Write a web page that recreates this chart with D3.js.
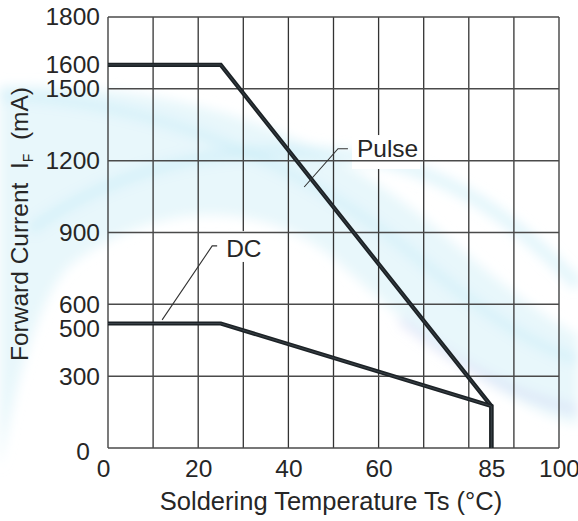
<!DOCTYPE html>
<html>
<head>
<meta charset="utf-8">
<script src="https://cdn.jsdelivr.net/npm/d3@7"></script>
<style>
  html, body { margin: 0; padding: 0; background: #ffffff; }
  svg { display: block; }
  text { font-family: "Liberation Sans", Arial, sans-serif; fill: #262626; }
</style>
</head>
<body>
<svg id="chart" width="578" height="521"></svg>
<script>
// ---- data ----
const temps = [0, 25, 85, 85];
const pulseCurrent = [1600, 1600, 175, 0];
const dcCurrent = [520, 520, 175, 0];
const xTickValues = [0, 20, 40, 60, 85, 100];
const yTickValues = [0, 300, 500, 600, 900, 1200, 1500, 1600, 1800];
const xGridValues = [0, 10, 20, 30, 40, 50, 60, 70, 80, 90, 100];
const yGridValues = [0, 300, 600, 900, 1200, 1500, 1800];
const seriesNames = ["Pulse", "DC"];
const xTitle = "Soldering Temperature Ts (°C)";

// ---- layout ----
const svg = d3.select("#chart");
const x = d3.scaleLinear().domain([0, 100]).range([108, 559]);
const y = d3.scaleLinear().domain([0, 1800]).range([448, 17]);

// ---- faint background watermark ----
const defs = svg.append("defs");
defs.append("filter").attr("id", "blur").append("feGaussianBlur").attr("stdDeviation", 6);
const g0 = svg.append("g").attr("filter", "url(#blur)");
g0.append("path")
  .attr("d", "M0,86 C160,82 300,120 420,215 C480,265 530,310 578,335 L578,425 C500,405 420,335 330,255 C250,195 150,205 70,265 C35,300 12,400 0,470 Z")
  .attr("fill", "#e2f5fa").attr("opacity", 0.8);
g0.append("path")
  .attr("d", "M30,230 C120,165 240,135 380,160 C460,178 520,225 578,285")
  .attr("fill", "none").attr("stroke", "#cdeef8").attr("stroke-width", 12).attr("opacity", 0.6);
g0.append("path")
  .attr("d", "M400,320 C460,365 510,395 578,410")
  .attr("fill", "none").attr("stroke", "#cfd2f3").attr("stroke-width", 6).attr("opacity", 0.6);
g0.append("path")
  .attr("d", "M0,95 C150,100 300,160 420,260 C480,310 530,345 578,360")
  .attr("fill", "none").attr("stroke", "#c8ecf7").attr("stroke-width", 10).attr("opacity", 0.55);

// ---- grid: vertical lines ----
svg.append("g").selectAll("line").data(xGridValues).join("line")
  .attr("x1", d => x(d)).attr("x2", d => x(d))
  .attr("y1", y(0)).attr("y2", y(1800))
  .attr("stroke", "#333").attr("stroke-width", 1.3);

// label backgrounds (hide vertical grid only)
const labelBoxes = [
  { x0: 54.1, x1: 69.2, y0: 1307, y1: 1165 },
  { x0: 24.8, x1: 34.1, y0: 906, y1: 777 }
];
svg.append("g").selectAll("rect").data(labelBoxes).join("rect")
  .attr("x", d => x(d.x0)).attr("width", d => x(d.x1) - x(d.x0))
  .attr("y", d => y(d.y0)).attr("height", d => y(d.y1) - y(d.y0))
  .attr("fill", "#ffffff");

// horizontal lines
svg.append("g").selectAll("line").data(yGridValues).join("line")
  .attr("x1", x(0)).attr("x2", x(100))
  .attr("y1", d => y(d)).attr("y2", d => y(d))
  .attr("stroke", "#4a4a4a").attr("stroke-width", 1.5);

// ---- axes tick labels ----
const fmt = d3.format("d");
const yAxis = svg.append("g").attr("transform", `translate(${x(0)},0)`)
  .call(d3.axisLeft(y).tickValues(yTickValues).tickFormat(fmt).tickSize(0).tickPadding(8));
yAxis.select(".domain").remove();
yAxis.selectAll("text").style("font-size", "24.5px").style("font-family", "'Liberation Sans', Arial, sans-serif").attr("fill", "#262626");
yAxis.selectAll(".tick").filter(d => d === 0).select("text").attr("dx", -10).attr("dy", "0.45em");

const xAxis = svg.append("g").attr("transform", `translate(0,${y(0)})`)
  .call(d3.axisBottom(x).tickValues(xTickValues).tickFormat(fmt).tickSize(0).tickPadding(12));
xAxis.select(".domain").remove();
xAxis.selectAll("text").style("font-size", "24.5px").style("font-family", "'Liberation Sans', Arial, sans-serif").attr("fill", "#262626");
xAxis.selectAll(".tick").filter(d => d === 0).select("text").attr("dx", -5);

// ---- curves ----
const line = d3.line().x(d => x(d[0])).y(d => y(d[1]));
const series = [d3.zip(temps, pulseCurrent), d3.zip(temps, dcCurrent)];
const cg = svg.append("g");
series.forEach(s => {
  cg.append("path").attr("d", line(s)).attr("fill", "none")
    .attr("stroke", "#1c2226").attr("stroke-width", 4.2).attr("stroke-linejoin", "miter");
  cg.append("path").attr("d", line(s)).attr("fill", "none")
    .attr("stroke", "#3d454b").attr("stroke-width", 0.9);
});

// ---- leaders and labels ----
const leaders = [
  [[43.5, 1090], [51.0, 1250], [53.2, 1250]],
  [[12.0, 535], [23.1, 844], [24.2, 844]]
];
const labelPos = [[55.2, 1215], [26.2, 798]];
leaders.forEach(l => {
  svg.append("path").attr("d", line(l)).attr("fill", "none")
    .attr("stroke", "#333").attr("stroke-width", 1.1);
});
seriesNames.forEach((n, i) => {
  svg.append("text").attr("x", x(labelPos[i][0])).attr("y", y(labelPos[i][1]))
    .style("font-size", "24.5px").text(n);
});

// ---- axis titles ----
svg.append("text").attr("x", 331).attr("y", 510).attr("text-anchor", "middle")
  .style("font-size", "25.5px").text(xTitle);

const yt = svg.append("text").attr("transform", "translate(28,224) rotate(-90)")
  .attr("text-anchor", "middle").style("font-size", "24.5px").style("white-space", "pre");
yt.append("tspan").text("Forward Current  I");
yt.append("tspan").attr("dy", 5).style("font-size", "14px").text("F");
yt.append("tspan").attr("dy", -5).text("  (mA)");
</script>
</body>
</html>
